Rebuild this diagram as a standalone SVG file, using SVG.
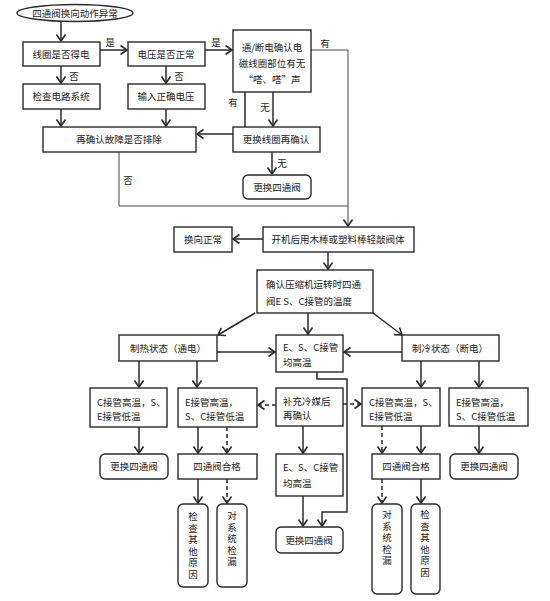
<svg xmlns="http://www.w3.org/2000/svg" width="550" height="601" viewBox="0 0 550 601">
<style>
.b{fill:#fff;stroke:#2a2a2a;stroke-width:1.4}
.t{font-family:"Noto Sans CJK SC","Noto Sans",sans-serif;font-size:9.5px;fill:#222;dominant-baseline:central}
.c{text-anchor:middle}
.v{writing-mode:vertical-rl;letter-spacing:2px;text-anchor:start}
.l{fill:none;stroke:#2a2a2a;stroke-width:1.5}
.th{fill:none;stroke:#444;stroke-width:1}
.d{stroke-dasharray:4,3}
</style>
<defs>
<marker id="a" markerUnits="userSpaceOnUse" markerWidth="12" markerHeight="12" viewBox="-8 -6 10 12" refX="0" refY="0" orient="auto">
<path d="M-6.5,-4.5 L0,0 L-6.5,4.5" fill="none" stroke="#2a2a2a" stroke-width="1.6"/>
</marker>
</defs>
<rect width="550" height="601" fill="#fff"/>
<g id="connectors">
<path class="l" d="M61,21 V41" marker-end="url(#a)"/>
<path class="l" d="M100,50 H127" marker-end="url(#a)"/>
<path class="l" d="M205,50 H232" marker-end="url(#a)"/>
<path class="l" d="M61,66 V83" marker-end="url(#a)"/>
<path class="l" d="M166,66 V83" marker-end="url(#a)"/>
<path class="l" d="M61,109 V126" marker-end="url(#a)"/>
<path class="l" d="M166,109 V126" marker-end="url(#a)"/>
<path class="l" d="M245,92 V134 H197" marker-end="url(#a)"/>
<path class="l" d="M273,92 V126" marker-end="url(#a)"/>
<path class="l" d="M272,152 V174" marker-end="url(#a)"/>
<path class="th" d="M311,50 H348 V226" marker-end="url(#a)"/>
<path class="th" d="M119,152 V206 H348"/>
<path class="l" d="M263,239 H233" marker-end="url(#a)"/>
<path class="l" d="M328,252 V269" marker-end="url(#a)"/>
<path class="l" d="M255,313 L218,335" marker-end="url(#a)"/>
<path class="l" d="M308,313 V334" marker-end="url(#a)"/>
<path class="l" d="M373,313 L402,335" marker-end="url(#a)"/>
<path class="l" d="M217,352 H275" marker-end="url(#a)"/>
<path class="l" d="M402,352 H344" marker-end="url(#a)"/>
<path class="l" d="M139,361 V387" marker-end="url(#a)"/>
<path class="l" d="M197,361 V387" marker-end="url(#a)"/>
<path class="l d" d="M276,405 H258" marker-end="url(#a)"/>
<path class="l d" d="M343,404 H361" marker-end="url(#a)"/>
<path class="l" d="M139,427 V453" marker-end="url(#a)"/>
<path class="l" d="M198,427 V453" marker-end="url(#a)"/>
<path class="l d" d="M227,427 V453" marker-end="url(#a)"/>
<path class="l" d="M198,479 V503" marker-end="url(#a)"/>
<path class="l d" d="M227,479 V503" marker-end="url(#a)"/>
<path class="l" d="M317,372 V379 H347 V512 H322 V526" marker-end="url(#a)"/>
<path class="l" d="M303,426 V453" marker-end="url(#a)"/>
<path class="l" d="M303,496 V526" marker-end="url(#a)"/>
<path class="l" d="M421,361 V387" marker-end="url(#a)"/>
<path class="l" d="M479,361 V387" marker-end="url(#a)"/>
<path class="l d" d="M382,426 V453" marker-end="url(#a)"/>
<path class="l" d="M421,426 V453" marker-end="url(#a)"/>
<path class="l d" d="M382,479 V503" marker-end="url(#a)"/>
<path class="l" d="M421,479 V503" marker-end="url(#a)"/>
<path class="l" d="M479,426 V453" marker-end="url(#a)"/>
<text class="t c" x="110" y="42">是</text>
<text class="t c" x="216" y="42">是</text>
<text class="t c" x="74" y="76">否</text>
<text class="t c" x="179" y="76">否</text>
<text class="t c" x="233" y="102">有</text>
<text class="t c" x="265" y="107">无</text>
<text class="t c" x="282" y="163">无</text>
<text class="t c" x="325" y="43">有</text>
<text class="t c" x="128" y="180">否</text>
</g>
<g id="n_start"><ellipse class="b" cx="75" cy="13" rx="58" ry="8.5"/><text class="t c" x="75" y="13">四通阀换向动作异常</text></g>
<g id="n_coil"><rect class="b" x="23" y="42" width="77" height="24"/><text class="t c" x="61" y="54">线圈是否得电</text></g>
<g id="n_volt"><rect class="b" x="128" y="42" width="77" height="24"/><text class="t c" x="166" y="54">电压是否正常</text></g>
<g id="n_sound"><rect class="b" x="233" y="30" width="78" height="62"/><text class="t c" x="272" y="47">通/断电确认电</text><text class="t c" x="272" y="63">磁线圈部位有无</text><text class="t c" x="272" y="79">“嗒、嗒”声</text></g>
<g id="n_circuit"><rect class="b" x="23" y="84" width="77" height="25"/><text class="t c" x="61" y="96">检查电路系统</text></g>
<g id="n_input"><rect class="b" x="128" y="84" width="77" height="25"/><text class="t c" x="166" y="96">输入正确电压</text></g>
<g id="n_recheck"><rect class="b" x="43" y="127" width="153" height="25"/><text class="t c" x="119" y="139">再确认故障是否排除</text></g>
<g id="n_coilre"><rect class="b" x="233" y="127" width="87" height="25"/><text class="t c" x="276" y="139">更换线圈再确认</text></g>
<g id="n_rep1"><rect class="b" x="243" y="175" width="68" height="24" rx="5"/><text class="t c" x="277" y="187">更换四通阀</text></g>
<g id="n_tap"><rect class="b" x="263" y="227" width="151" height="25"/><text class="t c" x="338" y="239">开机后用木棒或塑料棒轻敲阀体</text></g>
<g id="n_ok"><rect class="b" x="174" y="227" width="58" height="25"/><text class="t c" x="203" y="239">换向正常</text></g>
<g id="n_temp"><rect class="b" x="257" y="270" width="116" height="43"/><text class="t" x="266" y="284">确认压缩机运转时四通</text><text class="t" x="266" y="301">阀E  S、C接管的温度</text></g>
<g id="n_heat"><rect class="b" x="119" y="335" width="98" height="26"/><text class="t c" x="168" y="348">制热状态（通电）</text></g>
<g id="n_allhot"><rect class="b" x="276" y="335" width="67" height="37"/><text class="t" x="283" y="347">E、S、C接管</text><text class="t" x="283" y="362">均高温</text></g>
<g id="n_cool"><rect class="b" x="402" y="335" width="97" height="26"/><text class="t c" x="450" y="348">制冷状态（断电）</text></g>
<g id="n_h1"><rect class="b" x="90" y="388" width="77" height="39"/><text class="t" x="97" y="402">C接管高温，S、</text><text class="t" x="97" y="416">E接管低温</text></g>
<g id="n_h2"><rect class="b" x="178" y="388" width="79" height="39"/><text class="t" x="185" y="402">E接管高温，</text><text class="t" x="185" y="416">S、C接管低温</text></g>
<g id="n_refill"><rect class="b" x="276" y="388" width="67" height="38"/><text class="t" x="283" y="401">补充冷媒后</text><text class="t" x="283" y="415">再确认</text></g>
<g id="n_c1"><rect class="b" x="362" y="388" width="78" height="38"/><text class="t" x="369" y="402">C接管高温，S、</text><text class="t" x="369" y="416">E接管低温</text></g>
<g id="n_c2"><rect class="b" x="449" y="388" width="79" height="38"/><text class="t" x="456" y="402">E接管高温，</text><text class="t" x="456" y="416">S、C接管低温</text></g>
<g id="n_hrep"><rect class="b" x="100" y="454" width="68" height="25" rx="5"/><text class="t c" x="134" y="466">更换四通阀</text></g>
<g id="n_hpass"><rect class="b" x="178" y="454" width="79" height="25"/><text class="t c" x="217" y="466">四通阀合格</text></g>
<g id="n_allhot2"><rect class="b" x="276" y="454" width="67" height="42"/><text class="t" x="283" y="467">E、S、C接管</text><text class="t" x="283" y="483">均高温</text></g>
<g id="n_cpass"><rect class="b" x="372" y="454" width="68" height="25"/><text class="t c" x="406" y="466">四通阀合格</text></g>
<g id="n_crep"><rect class="b" x="450" y="454" width="68" height="25" rx="5"/><text class="t c" x="484" y="466">更换四通阀</text></g>
<g id="n_mrep"><rect class="b" x="276" y="527" width="67" height="26" rx="5"/><text class="t c" x="309" y="540">更换四通阀</text></g>
<g id="n_hother"><rect class="b" x="178" y="504" width="30" height="83" rx="5"/><text class="t v" x="193" y="512">检查其他原因</text></g>
<g id="n_hleak"><rect class="b" x="217" y="504" width="30" height="83" rx="5"/><text class="t v" x="232" y="511">对系统检漏</text></g>
<g id="n_cleak"><rect class="b" x="372" y="504" width="30" height="90" rx="5"/><text class="t v" x="387" y="510">对系统检漏</text></g>
<g id="n_cother"><rect class="b" x="411" y="504" width="29" height="90" rx="5"/><text class="t v" x="425" y="510">检查其他原因</text></g>
</svg>
